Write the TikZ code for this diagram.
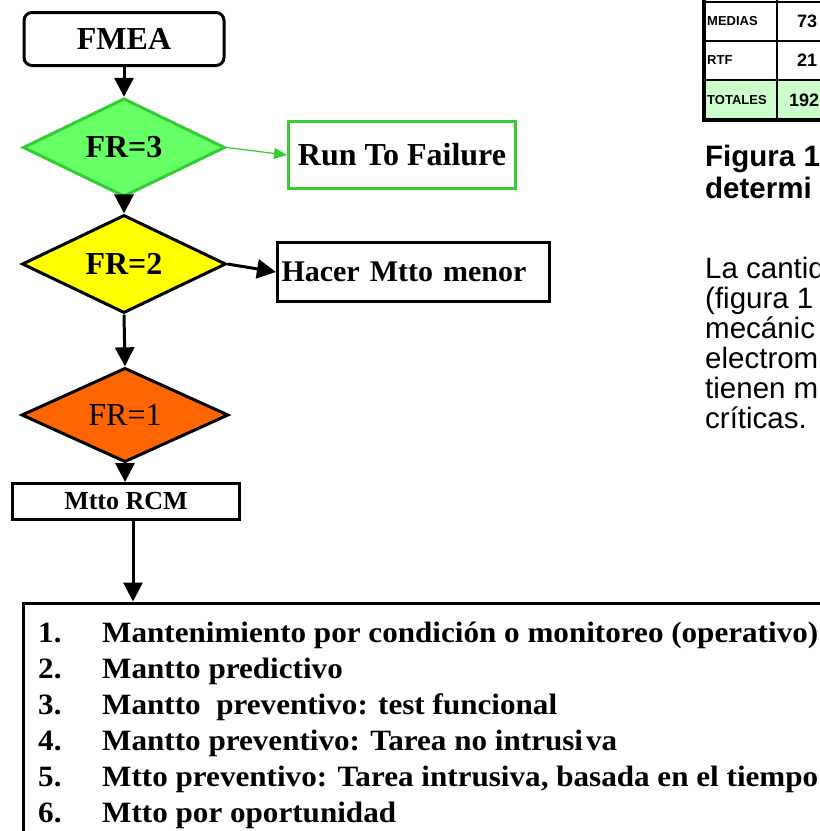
\documentclass[tikz,border=0pt]{standalone}
\usepackage{fontspec}
\setmainfont{Liberation Serif}
\newfontfamily\arialf{Liberation Sans}
\newfontfamily\lstfont{Liberation Serif}[FakeStretch=1.055]
\usetikzlibrary{shapes.geometric,arrows.meta}
\definecolor{gfill}{HTML}{66FF66}
\definecolor{gline}{HTML}{33CC33}
\definecolor{yfill}{HTML}{FFFF00}
\definecolor{ofill}{HTML}{FF6600}
\definecolor{tgreen}{HTML}{CCFFCC}
\tikzset{
  box/.style={draw, line width=3pt, inner sep=0pt},
  dia/.style={diamond, draw, line width=3pt, inner sep=0pt},
  arr/.style={line width=3pt, -{Triangle[length=19pt,width=19pt]}},
  garr/.style={draw=gline, line width=1.2pt, -{Triangle[length=13pt,width=11pt]}, gline},
  fcb/.style={font=\fontsize{32pt}{36pt}\selectfont\bfseries},
  fcr/.style={font=\fontsize{32pt}{36pt}\selectfont},
  lst/.style={anchor=base west, inner sep=0pt, font={\lstfont\fontsize{29.5pt}{36pt}\selectfont\bfseries}},
  captxt/.style={anchor=base west, inner sep=0pt, font={\arialf\fontsize{29.5pt}{32pt}\selectfont\bfseries}},
  bodytxt/.style={anchor=base west, inner sep=0pt, font={\arialf\fontsize{29.5pt}{30pt}\selectfont}},
  tlab/.style={anchor=west, inner sep=0pt, font={\arialf\fontsize{13pt}{15pt}\selectfont\bfseries}},
  tnum/.style={anchor=west, inner sep=0pt, font={\arialf\fontsize{18pt}{20pt}\selectfont\bfseries}},
}
\begin{document}
\begin{tikzpicture}[x=1pt,y=-1pt]
\useasboundingbox (0,0) rectangle (820,831);
\clip (0,0) rectangle (820,831);
\fill[white] (0,0) rectangle (820,831);

% flowchart nodes
\node[box, rounded corners=8pt, minimum width=200pt, minimum height=53pt, fcb] (fmea) at (124,39) {FMEA};
\node[dia, draw=gline, fill=gfill, minimum width=202pt, minimum height=88pt, fcb] (fr3) at (124,147.5) {FR=3};
\node[box, draw=gline, minimum width=227pt, minimum height=67pt, fcb] (run) at (402,155) {Run To Failure};
\node[dia, fill=yfill, minimum width=204pt, minimum height=95pt, fcb] (fr2) at (124,264) {FR=2};
\node[box, minimum width=272pt, minimum height=59pt, inner xsep=4pt, text width=264pt, align=left,
      font=\fontsize{30pt}{34pt}\selectfont\bfseries] (hacer) at (413.5,272) {Hacer Mtto menor};
\node[dia, fill=ofill, minimum width=207pt, minimum height=61pt, fcr] (fr1) at (125,415) {FR=1};
\node[box, minimum width=227pt, minimum height=36pt, font=\fontsize{26pt}{30pt}\selectfont\bfseries] (rcm) at (126,501.5) {Mtto RCM};
\node[box, anchor=north west, minimum width=830pt, minimum height=260pt] (lbox) at (21.5,601.5) {};

% list
\node[lst] (l1) at (38,642) {\makebox[64pt][l]{1.}Mantenimiento por condición o monitoreo (operativo)};
\node[lst] (l2) at (38,678) {\makebox[64pt][l]{2.}Mantto predictivo};
\node[lst] (l3) at (38,714) {\makebox[64pt][l]{3.}Mantto\ \ preventivo: test funcional};
\node[lst] (l4) at (38,750) {\makebox[64pt][l]{4.}Mantto preventivo: Tarea no intrusi\kern3pt va};
\node[lst] (l5) at (38,786) {\makebox[64pt][l]{5.}Mtto preventivo: Tarea intrusiva, basada en el tiempo};
\node[lst] (l6) at (38,822) {\makebox[64pt][l]{6.}Mtto por oportunidad};

% connectors
\draw[arr] (fmea.south) -- (fr3.north);
\draw[garr] (fr3.east) -- (run.west);
\draw[arr] (fr3.south) -- (fr2.north);
\draw[arr] (fr2.east) -- (hacer.west);
\draw[arr] (fr2.south) -- (fr1.north);
\draw[arr] (fr1.south) -- (fr1.south |- rcm.north);
\draw[arr] ([xshift=7pt]rcm.south) -- ([xshift=7pt]rcm.south |- lbox.north);

% table (top right, cut by the page edge)
\fill[tgreen] (704,80) rectangle (830,120);
\draw[line width=2pt] (704,1.5) -- (830,1.5);
\draw[line width=2pt] (704,41) -- (830,41);
\draw[line width=2pt] (704,80) -- (830,80);
\draw[line width=2pt] (777,-5) -- (777,120);
\draw[line width=4pt] (704,-5) -- (704,120) -- (830,120);
\node[tlab] (tm) at (707,21.5) {MEDIAS};
\node[tlab] (tr) at (707,60.5) {RTF};
\node[tlab] (tt) at (707,100) {TOTALES};
\node[tnum] (nm) at (797,21.5) {73};
\node[tnum] (nr) at (797,60.5) {21};
\node[tnum] (nt) at (789,100) {192};

% caption and body text (cut by the page edge)
\node[captxt] (c1) at (705,166) {Figura 1};
\node[captxt] (c2) at (705,198) {determi};
\node[bodytxt] (b1) at (705,278) {La cantid};
\node[bodytxt] (b2) at (705,308) {(figura 1};
\node[bodytxt] (b3) at (705,338) {mecánic};
\node[bodytxt] (b4) at (705,368) {electrom};
\node[bodytxt] (b5) at (705,398) {tienen m};
\node[bodytxt] (b6) at (705,428) {críticas.};
\end{tikzpicture}
\end{document}
